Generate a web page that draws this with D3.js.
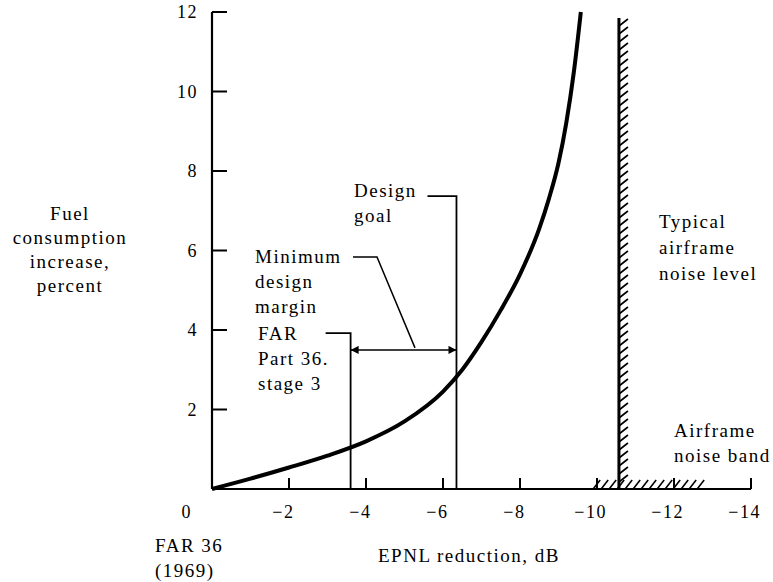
<!DOCTYPE html>
<html lang="en">
<head>
<meta charset="UTF-8">
<title>Fuel consumption vs EPNL reduction</title>
<script src="https://cdnjs.cloudflare.com/ajax/libs/d3/7.9.0/d3.min.js"></script>
<style>
  body { margin: 0; background: #fff; }
  text { font-family: "Liberation Serif", "Times New Roman", serif; fill: #000; letter-spacing: 1.5px; }
</style>
</head>
<body>
<svg id="chart" width="773" height="582"></svg>
<script>
// EPNL reduction (dB) vs fuel consumption increase (percent)
const dbVals   = [0, -1, -2, -3, -4, -5, -6, -6.5, -7, -7.5, -8, -8.5, -8.75, -9, -9.2, -9.4, -9.58];
const fuelVals = [0, 0.26, 0.54, 0.84, 1.2, 1.7, 2.45, 3.0, 3.7, 4.5, 5.4, 6.55, 7.3, 8.2, 9.2, 10.5, 12];

const xTicks = [0, -2, -4, -6, -8, -10, -12, -14];
const yTicks = [2, 4, 6, 8, 10, 12];

const farStage3 = -3.6;     // FAR Part 36, stage 3
const designGoal = -6.35;   // design goal
const marginY = 3.5;        // height of the margin arrow
const noiseLevel = -10.57;  // typical airframe noise level
const noiseBand = [-9.9, -12.85];

const svg = d3.select("#chart");
const x = d3.scaleLinear().domain([0, -14]).range([212, 751]);
const y = d3.scaleLinear().domain([0, 12]).range([489, 12]);

svg.append("defs").append("marker")
    .attr("id", "arr")
    .attr("viewBox", "0 0 10 10")
    .attr("refX", 10).attr("refY", 5)
    .attr("markerWidth", 14).attr("markerHeight", 8)
    .attr("markerUnits", "userSpaceOnUse")
    .attr("orient", "auto-start-reverse")
    .append("path").attr("d", "M0,0 L10,5 L0,10 Z").attr("fill", "#000");

// axes
svg.append("line")
    .attr("x1", x(0)).attr("x2", x(0)).attr("y1", y(0)).attr("y2", y(12))
    .attr("stroke", "#000").attr("stroke-width", 2.2);
svg.append("line")
    .attr("x1", x(0)).attr("x2", x(-14)).attr("y1", y(0)).attr("y2", y(0))
    .attr("stroke", "#000").attr("stroke-width", 2.2);

svg.selectAll(".ytick").data(yTicks).enter().append("line")
    .attr("x1", x(0)).attr("x2", x(0) + 15)
    .attr("y1", d => y(d)).attr("y2", d => y(d))
    .attr("stroke", "#000").attr("stroke-width", 2);
svg.selectAll(".ylab").data(yTicks).enter().append("text")
    .attr("x", 198).attr("y", d => y(d) + 6)
    .attr("text-anchor", "end").attr("font-size", 18)
    .text(d => d);

svg.selectAll(".xtick").data(xTicks.slice(1)).enter().append("line")
    .attr("x1", d => x(d)).attr("x2", d => x(d))
    .attr("y1", y(0)).attr("y2", y(0) - 11)
    .attr("stroke", "#000").attr("stroke-width", 2);
svg.selectAll(".xlab").data(xTicks).enter().append("text")
    .attr("x", d => d === 0 ? x(0) - 20 : x(d) + String(Math.abs(d)).length * 4.5 + 1)
    .attr("y", 518)
    .attr("text-anchor", "end").attr("font-size", 18)
    .text(d => d === 0 ? "0" : "\u2212" + Math.abs(d));

// curve
const pts = dbVals.map((d, i) => [x(d), y(fuelVals[i])]);
svg.append("path")
    .attr("d", d3.line().curve(d3.curveMonotoneX)(pts))
    .attr("fill", "none").attr("stroke", "#000").attr("stroke-width", 4);

// FAR stage 3 and design goal lines
svg.append("polyline")
    .attr("points", [[x(farStage3) - 25, y(3.92)], [x(farStage3), y(3.92)], [x(farStage3), y(0)]].join(" "))
    .attr("fill", "none").attr("stroke", "#000").attr("stroke-width", 1.8);
svg.append("polyline")
    .attr("points", [[x(designGoal) - 29, y(7.37)], [x(designGoal), y(7.37)], [x(designGoal), y(0)]].join(" "))
    .attr("fill", "none").attr("stroke", "#000").attr("stroke-width", 1.8);

// margin arrow
svg.append("line")
    .attr("x1", x(farStage3)).attr("x2", x(designGoal))
    .attr("y1", y(marginY)).attr("y2", y(marginY))
    .attr("stroke", "#000").attr("stroke-width", 1.5)
    .attr("marker-start", "url(#arr)").attr("marker-end", "url(#arr)");
svg.append("polyline")
    .attr("points", [[353, 257], [377, 257], [415, y(marginY) - 2]].join(" "))
    .attr("fill", "none").attr("stroke", "#000").attr("stroke-width", 1.5);

// noise level line with hatching on the right
const nx = x(noiseLevel);
svg.append("line")
    .attr("x1", nx).attr("x2", nx).attr("y1", 18).attr("y2", y(0))
    .attr("stroke", "#000").attr("stroke-width", 3);
svg.selectAll(".vh").data(d3.range(26, y(0) - 4, 8)).enter().append("line")
    .attr("x1", nx).attr("y1", d => d)
    .attr("x2", nx + 9).attr("y2", d => d - 7)
    .attr("stroke", "#000").attr("stroke-width", 1.6);

// airframe noise band hatching on the axis
svg.selectAll(".hh").data(d3.range(x(noiseBand[0]), x(noiseBand[1]) - 6, 8)).enter().append("line")
    .attr("x1", d => d).attr("y1", y(0))
    .attr("x2", d => d + 7).attr("y2", y(0) - 9)
    .attr("stroke", "#000").attr("stroke-width", 1.6);

// text blocks
function block(lines, px, py, anchor, dy) {
  const t = svg.append("text").attr("font-size", 19).attr("text-anchor", anchor || "start");
  lines.forEach((s, i) => t.append("tspan").attr("x", px).attr("y", py + i * (dy || 25)).text(s));
}
block(["Fuel", "consumption", "increase,", "percent"], 70, 220, "middle", 24);
block(["Design", "goal"], 354, 197);
block(["Minimum", "design", "margin"], 255, 263);
block(["FAR", "Part 36.", "stage 3"], 258, 340);
block(["Typical", "airframe", "noise level"], 659, 228, "start", 26);
block(["Airframe", "noise band"], 674, 437);
block(["FAR 36", "(1969)"], 155, 552);
block(["EPNL reduction, dB"], 378, 562);
</script>
</body>
</html>
